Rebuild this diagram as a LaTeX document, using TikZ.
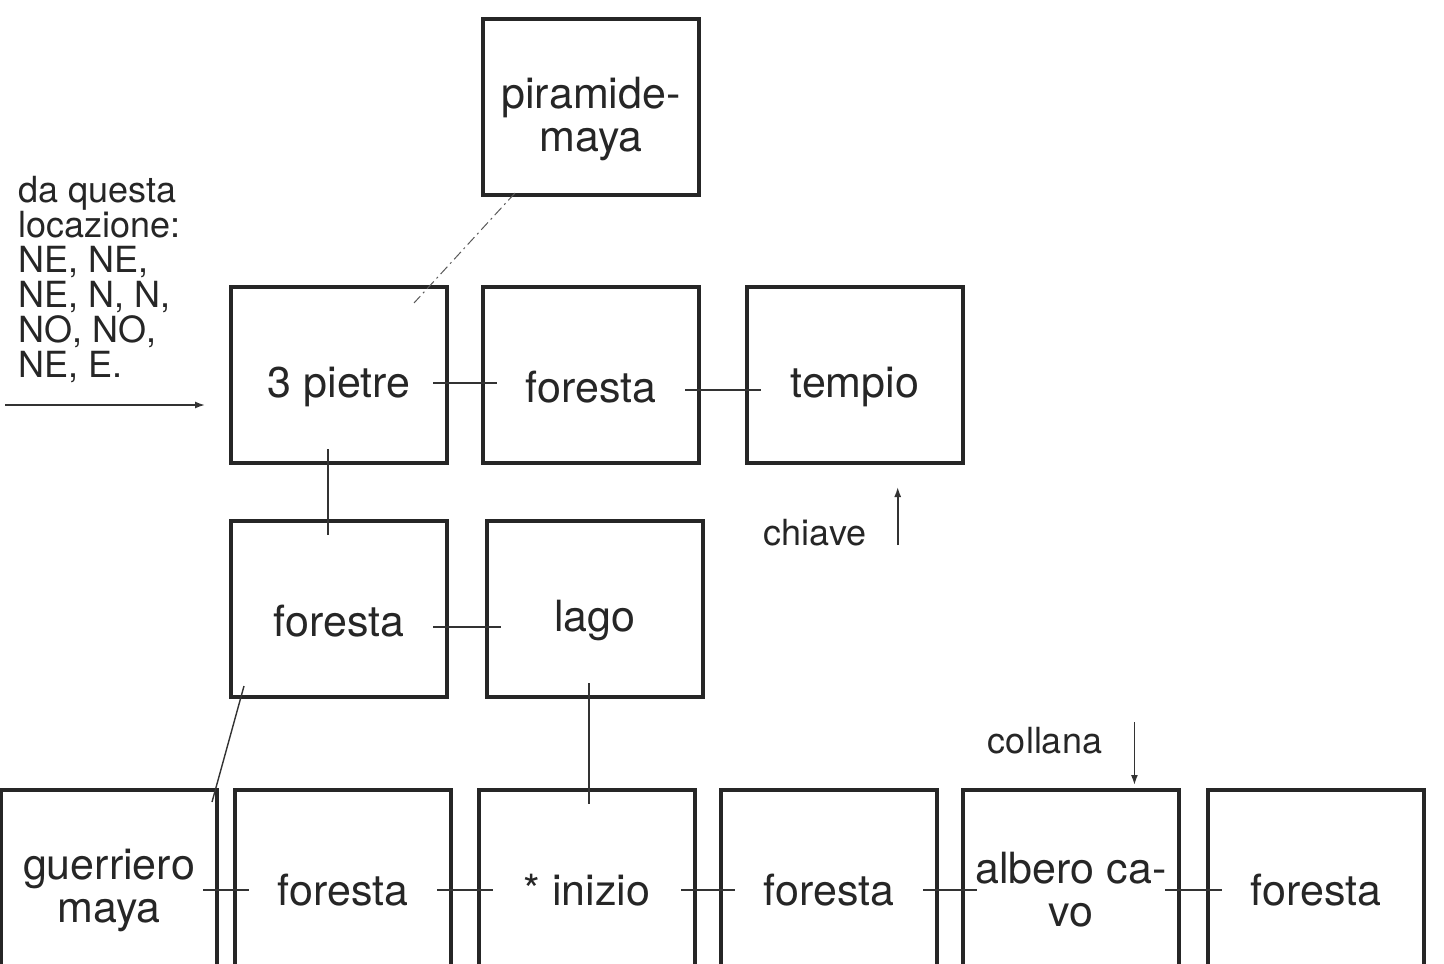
\documentclass[tikz,border=0pt]{standalone}
\usepackage{fontspec}
\setmainfont{TeX Gyre Heros}
\usetikzlibrary{arrows.meta, positioning, calc}

\newcommand{\lift}{\rule{0pt}{27.5pt}}

\begin{document}
\begin{tikzpicture}[
    node distance=18pt,
    room/.style={rectangle, draw=black!85, line width=1.6pt, outer sep=0pt,
                 minimum width=108pt, minimum height=88pt, inner sep=2pt,
                 align=center, text=black!85, font=\fontsize{21.5}{21.5}\selectfont},
    link/.style={draw=black!80, line width=0.7pt, shorten <=-7pt, shorten >=-7pt},
    note/.style={inner sep=0pt, text=black!85, font=\fontsize{18}{17.5}\selectfont},
    pointer/.style={-{Latex[length=5pt,width=3.5pt]}, line width=0.8pt, draw=black!80},
]
\useasboundingbox (0,0) rectangle (722pt,-481.5pt);

%% Upper part of the map
\node[room] (p3) at (169.5pt,-187.5pt) {\lift 3 pietre};
\node[room, right=18pt of p3] (f1) {\lift foresta};
\node[room, right=24pt of f1] (tempio) {\lift tempio};
\node[room, above=46pt of f1] (piramide) {\lift piramide-\\maya};
\node[room, below=29pt of p3] (f2) {\lift foresta};
\node[room, right=20pt of f2] (lago) {\lift lago};

%% Bottom row
\node[room] (guerriero) at (54.5pt,-439pt) {\lift guerriero\\maya};
\node[room, right=9pt of guerriero] (f3) {\lift foresta};
\node[room, right=14pt of f3] (inizio) {\lift * inizio};
\node[room, right=13pt of inizio] (f4) {\lift foresta};
\node[room, right=13pt of f4] (albero) {\lift albero ca-\\vo};
\node[room, right=14.5pt of albero] (f5) {\lift foresta};

%% Passages
\foreach \a/\b/\dy in {p3/f1/-4pt, f1/tempio/-7.5pt, f2/lago/-9pt,
        guerriero/f3/-6pt, f3/inizio/-6pt, inizio/f4/-6pt, f4/albero/-6pt, albero/f5/-6pt}
    \draw[link] ([yshift=\dy]\a.east) -- ([yshift=\dy]\b.west);
\draw[link] ([xshift=-5.5pt]p3.south) -- ([xshift=-5.5pt]p3.south |- f2.north);
\draw[link] ([xshift=-3pt]lago.south) -- ([xshift=-3pt]lago.south |- inizio.north);
\draw[link, shorten <=0pt, shorten >=0pt]
    ($(f2.south west)+(6.5pt,5.5pt)$) -- ($(guerriero.north east)+(-2.5pt,-6pt)$);
\draw[link, shorten <=0pt, shorten >=0pt, line width=0.5pt, draw=black!65,
      dash pattern=on 5pt off 2pt on 1pt off 2pt]
    ($(piramide.south west)+(16pt,1pt)$) -- ($(p3.north east)+(-16.5pt,-8pt)$);

%% Route and objects
\node[note, anchor=north west, align=left] (route) at (9pt,-88pt)
    {da questa\\locazione:\\NE, NE,\\NE, N, N,\\NO, NO,\\NE, E.};
\coordinate (entry) at (2.5pt,-202.5pt);
\draw[pointer] (entry) -- ([shift={(-13pt,-15pt)}]p3.west);

\node[note] (chiave) at (407.5pt,-266.5pt) {chiave};
\draw[pointer] ($(chiave.east)+(15.5pt,-6pt)$) -- ($(chiave.east)+(15.5pt,23pt)$);
\node[note] (collana) at (522.5pt,-370.5pt) {collana};
\draw[pointer] ($(collana.east)+(16pt,9.5pt)$) -- ($(collana.east)+(16pt,-22pt)$);

\end{tikzpicture}
\end{document}
